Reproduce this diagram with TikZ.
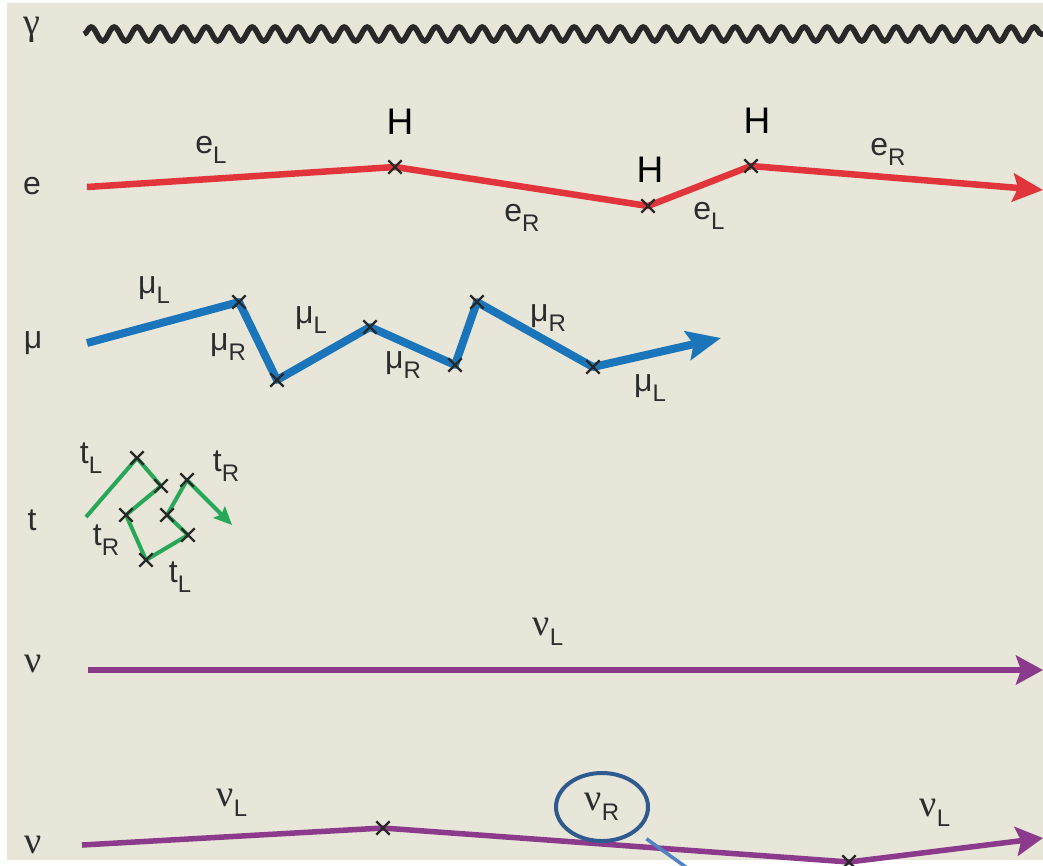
\documentclass[tikz,border=0pt]{standalone}
\usepackage{fontspec}
\setmainfont{Liberation Sans}
\newfontfamily\grk{Liberation Serif}
\usepackage{tikz}
\usetikzlibrary{arrows.meta, shapes.geometric, shapes.misc, decorations.pathmorphing}

\definecolor{paper}{RGB}{232,230,216}
\definecolor{ink}{RGB}{45,45,45}
\definecolor{xmark}{RGB}{40,40,40}
\definecolor{wave}{RGB}{40,40,40}
\definecolor{ered}{RGB}{226,53,59}
\definecolor{mublue}{RGB}{26,117,187}
\definecolor{tgreen}{RGB}{38,168,88}
\definecolor{nupurple}{RGB}{140,59,140}
\definecolor{ring}{RGB}{47,90,143}
\definecolor{pointer}{RGB}{79,131,196}

\newcommand\lsub[2]{#1\raisebox{-0.32em}{\fontsize{24}{24}\selectfont #2}}
\newcommand\gk[1]{{\grk\fontsize{38}{38}\selectfont #1}}

\begin{document}
\begin{tikzpicture}[x=1pt, y=-1pt,
        lab/.style={font=\fontsize{32}{32}\selectfont, text=ink, inner sep=0pt},
        higgs/.style={font=\fontsize{37}{37}\selectfont, text=black, inner sep=0pt},
        vx/.style={cross out, draw=xmark, line width=2.4pt, minimum size=11pt, inner sep=0pt},
        photon/.style={draw=wave, line width=5.5pt, decorate, decoration={snake, segment length=23pt, amplitude=7pt}},
        eline/.style={draw=ered, line width=6.5pt, line join=round, -{Stealth[length=30pt, width=28pt, inset=5pt]}},
        muline/.style={draw=mublue, line width=8pt, line join=round, -{Stealth[length=34pt, width=29pt, inset=6pt]}},
        tline/.style={draw=tgreen, line width=4pt, line join=round, -{Stealth[length=18pt, width=16pt, inset=3pt]}},
        nuline/.style={draw=nupurple, line width=6.5pt, line join=round, -{Stealth[length=27pt, width=29pt, inset=5pt]}}%
    ]
        \useasboundingbox (0,0) rectangle (1043,865);
        \fill[white] (0,0) rectangle (1043,865);
        \fill[paper] (7,3) rectangle (1043,860);

        % particle names
        \node[lab] (ngam) at (32,30) {\gk{γ}};
        \node[lab] (ne) at (32,186) {e};
        \node[lab] (nmu) at (33,343) {μ};
        \node[lab] (nt) at (32,520) {t};
        \node[lab] (nnu1) at (33,664) {\gk{ν}};
        \node[lab] (nnu2) at (33,845) {\gk{ν}};

        % photon
        \coordinate (g0) at (84,34);
        \coordinate (g1) at (1043,34);
        \draw[photon] (g0) -- (g1);

        % electron
        \coordinate (e0) at (87,187);
        \coordinate (e1) at (395,167);
        \coordinate (e2) at (648,206);
        \coordinate (e3) at (751,166);
        \coordinate (e4) at (1043,190);
        \draw[eline] (e0) -- (e1) -- (e2) -- (e3) -- (e4);
        \foreach \v in {e1,e2,e3} \node[vx] at (\v) {};
        \node[lab] (eL1) at (211,150) {\lsub{e}{L}};
        \node[lab] (eR1) at (522,218) {\lsub{e}{R}};
        \node[lab] (eL2) at (709,216) {\lsub{e}{L}};
        \node[lab] (eR2) at (888,152) {\lsub{e}{R}};
        \node[higgs] (h1) at (400,122) {H};
        \node[higgs] (h2) at (650,170) {H};
        \node[higgs] (h3) at (757,121) {H};

        % muon
        \coordinate (m0) at (87,343);
        \coordinate (m1) at (239,302);
        \coordinate (m2) at (277,380);
        \coordinate (m3) at (370,327);
        \coordinate (m4) at (455,365);
        \coordinate (m5) at (477,302);
        \coordinate (m6) at (593,367);
        \coordinate (m7) at (721,338);
        \draw[muline] (m0) -- (m1) -- (m2) -- (m3) -- (m4) -- (m5) -- (m6) -- (m7);
        \foreach \v in {m1,m2,m3,m4,m5,m6} \node[vx] at (\v) {};
        \node[lab] (muL1) at (154,290) {\lsub{μ}{L}};
        \node[lab] (muR1) at (228,347) {\lsub{μ}{R}};
        \node[lab] (muL2) at (311,320) {\lsub{μ}{L}};
        \node[lab] (muR2) at (403,365) {\lsub{μ}{R}};
        \node[lab] (muR3) at (548,318) {\lsub{μ}{R}};
        \node[lab] (muL3) at (650,388) {\lsub{μ}{L}};

        % tau
        \coordinate (t0) at (86,517);
        \coordinate (t1) at (137,458);
        \coordinate (t2) at (161,486);
        \coordinate (t3) at (126,515);
        \coordinate (t4) at (146,560);
        \coordinate (t5) at (188,535);
        \coordinate (t6) at (167,515);
        \coordinate (t7) at (187,480);
        \coordinate (t8) at (232,525);
        \draw[tline] (t0) -- (t1) -- (t2) -- (t3) -- (t4) -- (t5) -- (t6) -- (t7) -- (t8);
        \foreach \v in {t1,t2,t3,t4,t5,t6,t7} \node[vx] at (\v) {};
        \node[lab] (tL1) at (91,458) {\lsub{t}{L}};
        \node[lab] (tR1) at (226,466) {\lsub{t}{R}};
        \node[lab] (tR2) at (106,540) {\lsub{t}{R}};
        \node[lab] (tL2) at (180,577) {\lsub{t}{L}};

        % neutrino, no mass
        \coordinate (a0) at (88,670);
        \coordinate (a1) at (1043,670);
        \draw[nuline] (a0) -- (a1);
        \node[lab] (nuL1) at (548,632) {\lsub{\gk{ν}}{L}};

        % neutrino with mass
        \coordinate (n0) at (82,845);
        \coordinate (n1) at (383,828);
        \coordinate (n2) at (849,862);
        \coordinate (n3) at (1043,838);
        \draw[nuline, line width=5.5pt] (n0) -- (n1) -- (n2) -- (n3);
        \foreach \v in {n1,n2} \node[vx] at (\v) {};
        \node[lab] (nuL2) at (232,803) {\lsub{\gk{ν}}{L}};
        \node[lab] (nuL3) at (935,813) {\lsub{\gk{ν}}{L}};
        \node[lab, ellipse, draw=ring, line width=4pt, minimum width=92pt, minimum height=68pt] (nuR) at (602,807) {\lsub{\gk{ν}}{R}};
        \coordinate (p1) at (690,870);
        \draw[pointer, line width=3.5pt, shorten <=12pt] (nuR) -- (p1);
    \end{tikzpicture}
\end{document}
